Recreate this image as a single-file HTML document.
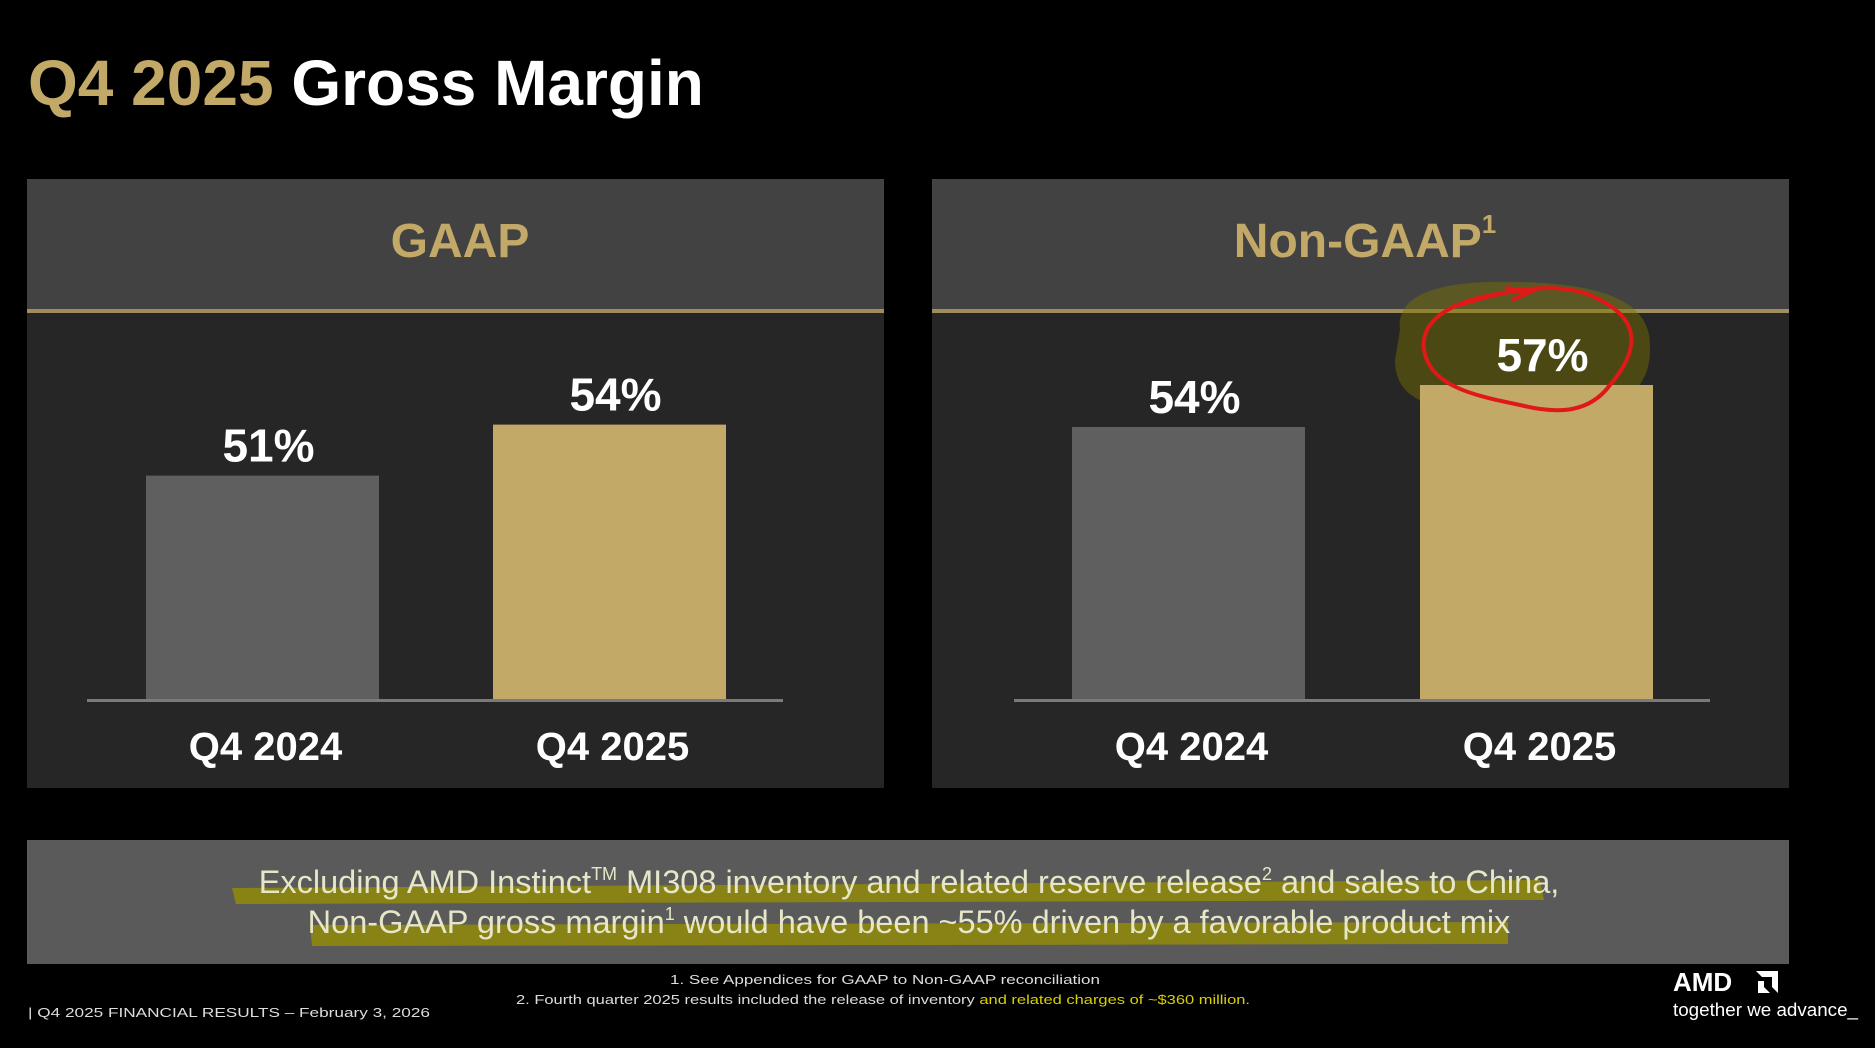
<!DOCTYPE html>
<html><head><meta charset="utf-8"><style>
html,body{margin:0;padding:0;background:#000;}
body{width:1875px;height:1043px;overflow:hidden;font-family:"Liberation Sans",sans-serif;}
svg text{font-family:"Liberation Sans",sans-serif;}
</style></head><body>
<svg id="chart" width="1875" height="1043" viewBox="0 0 1875 1043" xmlns="http://www.w3.org/2000/svg">
<rect x="0" y="0" width="1875" height="1043" fill="#000"/>
<text x="28" y="105" font-size="64" font-weight="bold"><tspan fill="#c2a968">Q4 2025</tspan><tspan fill="#fff"> Gross Margin</tspan></text>

<g id="panels"></g>

<rect x="27" y="840" width="1762" height="124" fill="#5a5a5a"/>
<path d="M232 888 L1540 880 L1544 900 L236 904 Z" fill="#9a9200" opacity="0.75"/>
<path d="M310 925 L1508 922 L1508 944 L312 946 Z" fill="#9a9200" opacity="0.75"/>
<text x="909" y="893" font-size="32.5" fill="#e6e6c8" text-anchor="middle">Excluding AMD Instinct<tspan font-size="18" dy="-13">TM</tspan><tspan dy="13"> MI308 inventory and related reserve release</tspan><tspan font-size="18" dy="-13">2</tspan><tspan dy="13"> and sales to China,</tspan></text>
<text x="909" y="933" font-size="32.5" fill="#e6e6c8" text-anchor="middle">Non-GAAP gross margin<tspan font-size="18" dy="-13">1</tspan><tspan dy="13"> would have been ~55% driven by a favorable product mix</tspan></text>

<text x="670" y="984" font-size="13" fill="#ddd" textLength="430" lengthAdjust="spacingAndGlyphs">1.    See Appendices for GAAP to Non-GAAP reconciliation</text>
<text x="516" y="1004" font-size="13" fill="#ddd" textLength="734" lengthAdjust="spacingAndGlyphs">2.   Fourth quarter 2025 results included the release of inventory <tspan fill="#d8d000">and related charges of ~$360 million.</tspan></text>
<text x="28" y="1017" font-size="13" fill="#ddd" textLength="402" lengthAdjust="spacingAndGlyphs">|  Q4 2025 FINANCIAL RESULTS – February 3, 2026</text>
<text x="1673" y="991" font-size="26" font-weight="bold" fill="#fff">AMD</text>
<path d="M1756 971 L1778 971 L1778 993 L1772 987 L1772 977 L1762 977 Z M1758 981 L1764 981 L1764 987 L1770 993 L1758 993 Z" fill="#fff"/>
<text x="1673" y="1016" font-size="18" fill="#fff" textLength="185" lengthAdjust="spacingAndGlyphs">together we advance_</text>
</svg>
<script>
const categories = ["Q4 2024", "Q4 2025"];
const gaapValues = [51, 54];
const nonGaapValues = [54, 57];
const panelTitles = ["GAAP", "Non-GAAP"];
const NS = "http://www.w3.org/2000/svg";
const g = document.getElementById("panels");
function mk(tag, attrs){const e=document.createElementNS(NS,tag);for(const k in attrs)e.setAttribute(k,attrs[k]);return e;}
const panels = [
  {x:27, values:gaapValues, base:37.8, k:17, title:panelTitles[0], bars:[146,493], axis:[87,783]},
  {x:932, values:nonGaapValues, base:34.5, k:14, title:panelTitles[1], bars:[1072,1420], axis:[1014,1710]}
];
const baseY = 700, barW = 233;
panels.forEach((p, pi) => {
  const body = mk("rect",{x:p.x,y:179,width:857,height:609,fill:"#262626"});
  
  
  g.appendChild(body);
  const head = mk("rect",{x:p.x,y:179,width:857,height:131,fill:"#424242"});
  
  
  g.appendChild(head);
  const line = mk("rect",{x:p.x,y:309,width:857,height:4,fill:"#a08e5e"});
  
  
  g.appendChild(line);
  const t = mk("text",{x:p.x+433,y:257,"font-size":48,"font-weight":"bold",fill:"#c2a968","text-anchor":"middle"});
  t.textContent = p.title;
  if (pi===1){const s=mk("tspan",{"font-size":26,dy:-24});s.textContent="1";t.appendChild(s);}
  
  
  g.appendChild(t);
  p.values.forEach((v, i) => {
    const h = (v - p.base) * p.k;
    const top = baseY - h;
    const cx = p.bars[i] + barW/2 + 6;
    if (pi===1 && i===1){
      const blob = mk("path",{d:"M1400 330 C1395 290 1450 280 1520 282 C1600 284 1650 300 1650 345 C1652 400 1610 415 1520 414 C1430 414 1395 400 1395 360 Z",fill:"#7a7400",opacity:"0.45"});
      
      
      g.appendChild(blob);
    }
    const b = mk("rect",{x:p.bars[i],y:top,width:barW,height:h,fill:i===0?"#5f5f5f":"#c2a968"});
    
    
    g.appendChild(b);
    const lbl = mk("text",{x:cx,y:top-14,"font-size":46,"font-weight":"bold",fill:"#fff","text-anchor":"middle"});
    lbl.textContent = v + "%";
    
    
    g.appendChild(lbl);
    const cl = mk("text",{x:cx-3,y:760,"font-size":40,"font-weight":"bold",fill:"#fff","text-anchor":"middle"});
    cl.textContent = categories[i];
    
    
    g.appendChild(cl);
  });
  const ax = mk("rect",{x:p.axis[0],y:baseY-1,width:p.axis[1]-p.axis[0],height:3,fill:"#7a7a7a"});
  
  
  g.appendChild(ax);
});
const circ = mk("path",{d:"M1460 305 C1520 285 1570 282 1600 300 C1640 320 1640 350 1610 385 C1590 412 1560 415 1520 405 C1470 395 1430 385 1424 350 C1420 320 1450 300 1510 292 L1530 290 M1505 288 L1532 291 L1512 300",fill:"none",stroke:"#e01818","stroke-width":4});


g.appendChild(circ);
</script>
</body></html>
